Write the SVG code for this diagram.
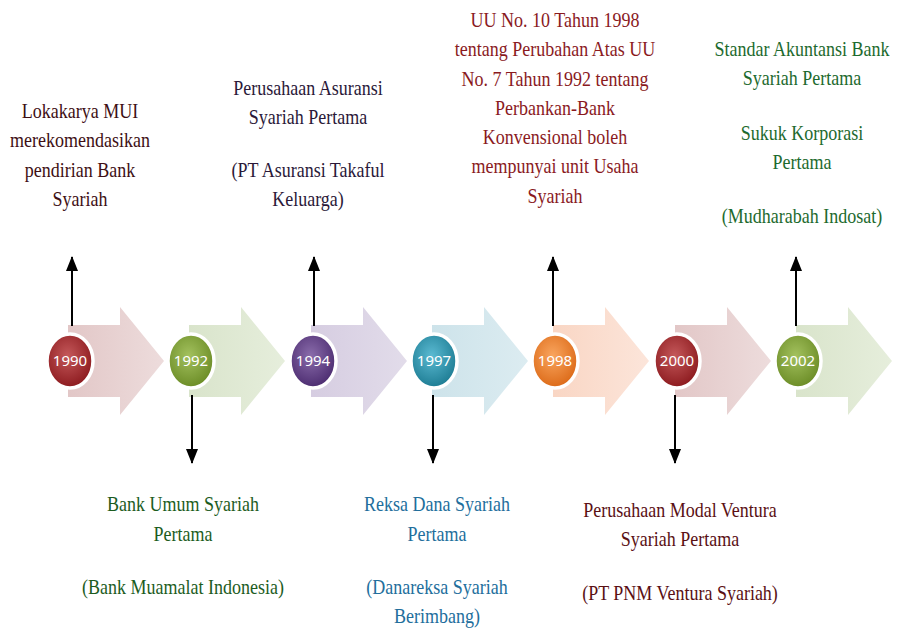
<svg xmlns="http://www.w3.org/2000/svg" xmlns:xlink="http://www.w3.org/1999/xlink" width="900" height="628" viewBox="0 0 900 628">
<style>
  .lbl text { font-family: "Liberation Serif", "Times New Roman", serif; font-size: 20px; text-anchor: middle; }
  .yr { font-family: "Noto Sans", "Open Sans", sans-serif; font-size: 15px; fill: #ffffff; text-anchor: middle; }
  .ring { stroke: #ffffff; stroke-width: 3.5; }
  .conn { stroke: #000000; stroke-width: 2; fill: none; }
</style>
<defs>
  <path id="chev" d="M -2 -36 H 50 V -54 L 94 0 L 50 54 V 36 H -2 Z"/>
  <linearGradient id="aRed" x1="0" y1="0" x2="1" y2="0"><stop offset="0" stop-color="#e2c7c7"/><stop offset="1" stop-color="#eddcdc"/></linearGradient>
  <linearGradient id="aGreen" x1="0" y1="0" x2="1" y2="0"><stop offset="0" stop-color="#d9e4cb"/><stop offset="1" stop-color="#e6eedc"/></linearGradient>
  <linearGradient id="aPurple" x1="0" y1="0" x2="1" y2="0"><stop offset="0" stop-color="#d6cde1"/><stop offset="1" stop-color="#e2dcea"/></linearGradient>
  <linearGradient id="aTeal" x1="0" y1="0" x2="1" y2="0"><stop offset="0" stop-color="#cde3ea"/><stop offset="1" stop-color="#dcecf1"/></linearGradient>
  <linearGradient id="aOrange" x1="0" y1="0" x2="1" y2="0"><stop offset="0" stop-color="#f9d6c4"/><stop offset="1" stop-color="#fce5da"/></linearGradient>
  <radialGradient id="cRed" cx="0.45" cy="0.4" r="0.6"><stop offset="0" stop-color="#c4585a"/><stop offset="1" stop-color="#8c1a1e"/></radialGradient>
  <radialGradient id="cGreen" cx="0.45" cy="0.4" r="0.6"><stop offset="0" stop-color="#a3c15e"/><stop offset="1" stop-color="#6b8c26"/></radialGradient>
  <radialGradient id="cPurple" cx="0.45" cy="0.4" r="0.6"><stop offset="0" stop-color="#8a6cab"/><stop offset="1" stop-color="#4c2c70"/></radialGradient>
  <radialGradient id="cTeal" cx="0.45" cy="0.4" r="0.6"><stop offset="0" stop-color="#5bbad2"/><stop offset="1" stop-color="#1d7c93"/></radialGradient>
  <radialGradient id="cOrange" cx="0.45" cy="0.4" r="0.6"><stop offset="0" stop-color="#f9a55e"/><stop offset="1" stop-color="#dc6a18"/></radialGradient>
  <marker id="ah" viewBox="0 0 15 12" refX="14" refY="6" markerWidth="15" markerHeight="12" markerUnits="userSpaceOnUse" orient="auto">
    <path d="M 0 0 L 15 6 L 0 12 Z" fill="#000000"/>
  </marker>
</defs>

<g id="node-1990">
  <use xlink:href="#chev" href="#chev" transform="translate(70 361)" fill="url(#aRed)"/>
  <ellipse cx="70" cy="361" rx="23" ry="27" fill="url(#cRed)" class="ring"/>
  <text class="yr" x="70" y="366">1990</text>
</g>
<g id="node-1992">
  <use xlink:href="#chev" href="#chev" transform="translate(191 361)" fill="url(#aGreen)"/>
  <ellipse cx="191" cy="361" rx="23" ry="27" fill="url(#cGreen)" class="ring"/>
  <text class="yr" x="191" y="366">1992</text>
</g>
<g id="node-1994">
  <use xlink:href="#chev" href="#chev" transform="translate(313 361)" fill="url(#aPurple)"/>
  <ellipse cx="313" cy="361" rx="23" ry="27" fill="url(#cPurple)" class="ring"/>
  <text class="yr" x="313" y="366">1994</text>
</g>
<g id="node-1997">
  <use xlink:href="#chev" href="#chev" transform="translate(434 361)" fill="url(#aTeal)"/>
  <ellipse cx="434" cy="361" rx="23" ry="27" fill="url(#cTeal)" class="ring"/>
  <text class="yr" x="434" y="366">1997</text>
</g>
<g id="node-1998">
  <use xlink:href="#chev" href="#chev" transform="translate(555 361)" fill="url(#aOrange)"/>
  <ellipse cx="555" cy="361" rx="23" ry="27" fill="url(#cOrange)" class="ring"/>
  <text class="yr" x="555" y="366">1998</text>
</g>
<g id="node-2000">
  <use xlink:href="#chev" href="#chev" transform="translate(677 361)" fill="url(#aRed)"/>
  <ellipse cx="677" cy="361" rx="23" ry="27" fill="url(#cRed)" class="ring"/>
  <text class="yr" x="677" y="366">2000</text>
</g>
<g id="node-2002">
  <use xlink:href="#chev" href="#chev" transform="translate(798 361)" fill="url(#aGreen)"/>
  <ellipse cx="798" cy="361" rx="23" ry="27" fill="url(#cGreen)" class="ring"/>
  <text class="yr" x="798" y="366">2002</text>
</g>

<g id="connectors">
  <line class="conn" x1="72" y1="326" x2="72" y2="257" marker-end="url(#ah)"/>
  <line class="conn" x1="314" y1="326" x2="314" y2="257" marker-end="url(#ah)"/>
  <line class="conn" x1="553" y1="326" x2="553" y2="257" marker-end="url(#ah)"/>
  <line class="conn" x1="796" y1="326" x2="796" y2="257" marker-end="url(#ah)"/>
  <line class="conn" x1="192" y1="395" x2="192" y2="463" marker-end="url(#ah)"/>
  <line class="conn" x1="433" y1="395" x2="433" y2="463" marker-end="url(#ah)"/>
  <line class="conn" x1="675" y1="395" x2="675" y2="463" marker-end="url(#ah)"/>
</g>

<g id="label-1990" class="lbl" transform="translate(80 0) scale(0.9 1)" fill="#3e0f14">
  <text x="0" y="118">Lokakarya MUI</text>
  <text x="0" y="147">merekomendasikan</text>
  <text x="0" y="177">pendirian Bank</text>
  <text x="0" y="206">Syariah</text>
</g>
<g id="label-1994" class="lbl" transform="translate(308 0) scale(0.9 1)" fill="#2a1838">
  <text x="0" y="95">Perusahaan Asuransi</text>
  <text x="0" y="124">Syariah Pertama</text>
  <text x="0" y="177">(PT Asuransi Takaful</text>
  <text x="0" y="206">Keluarga)</text>
</g>
<g id="label-1998" class="lbl" transform="translate(555 0) scale(0.9 1)" fill="#8a1a1e">
  <text x="0" y="27">UU No. 10 Tahun 1998</text>
  <text x="0" y="56">tentang Perubahan Atas UU</text>
  <text x="0" y="86">No. 7 Tahun 1992 tentang</text>
  <text x="0" y="115">Perbankan-Bank</text>
  <text x="0" y="144">Konvensional boleh</text>
  <text x="0" y="173">mempunyai unit Usaha</text>
  <text x="0" y="203">Syariah</text>
</g>
<g id="label-2002" class="lbl" transform="translate(802 0) scale(0.9 1)" fill="#1d6a2e">
  <text x="0" y="56">Standar Akuntansi Bank</text>
  <text x="0" y="85">Syariah Pertama</text>
  <text x="0" y="140">Sukuk Korporasi</text>
  <text x="0" y="169">Pertama</text>
  <text x="0" y="223">(Mudharabah Indosat)</text>
</g>
<g id="label-1992" class="lbl" transform="translate(183 0) scale(0.9 1)" fill="#1c5c1e">
  <text x="0" y="511">Bank Umum Syariah</text>
  <text x="0" y="541">Pertama</text>
  <text x="0" y="594">(Bank Muamalat Indonesia)</text>
</g>
<g id="label-1997" class="lbl" transform="translate(437 0) scale(0.9 1)" fill="#226e9c">
  <text x="0" y="511">Reksa Dana Syariah</text>
  <text x="0" y="541">Pertama</text>
  <text x="0" y="594">(Danareksa Syariah</text>
  <text x="0" y="623">Berimbang)</text>
</g>
<g id="label-2000" class="lbl" transform="translate(680 0) scale(0.9 1)" fill="#5a1014">
  <text x="0" y="517">Perusahaan Modal Ventura</text>
  <text x="0" y="546">Syariah Pertama</text>
  <text x="0" y="600">(PT PNM Ventura Syariah)</text>
</g>
</svg>
